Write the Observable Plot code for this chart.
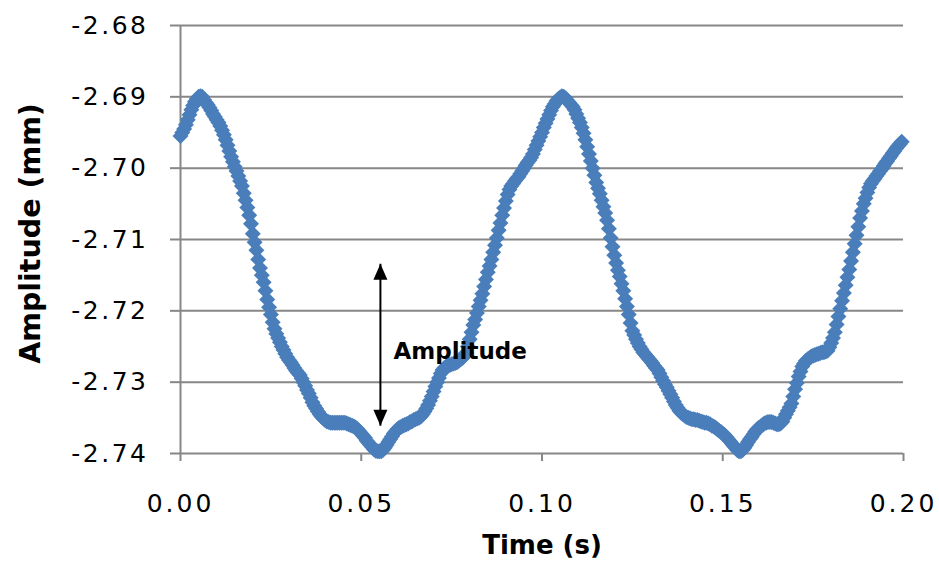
<!DOCTYPE html>
<html>
<head>
<meta charset="utf-8">
<script src="https://cdn.jsdelivr.net/npm/d3@7"></script>
<script src="https://cdn.jsdelivr.net/npm/@observablehq/plot@0.6"></script>
<style>
  html, body { margin: 0; padding: 0; background: #fff; }
  #chart svg [aria-label="y-axis tick label"] text { letter-spacing: 2.5px; }
  #chart svg [aria-label="x-axis tick label"] text { letter-spacing: 3px; }
</style>
</head>
<body>
<div id="chart"></div>
<script>
// Time (s) of each sample
const times = [
  0.0000,0.0005,0.0010,0.0015,0.0020,0.0025,0.0030,0.0035,0.0040,0.0045,
  0.0050,0.0055,0.0060,0.0065,0.0070,0.0075,0.0080,0.0085,0.0090,0.0095,
  0.0100,0.0105,0.0110,0.0115,0.0120,0.0125,0.0130,0.0135,0.0140,0.0145,
  0.0150,0.0155,0.0160,0.0165,0.0170,0.0175,0.0180,0.0185,0.0190,0.0195,
  0.0200,0.0205,0.0210,0.0215,0.0220,0.0225,0.0230,0.0235,0.0240,0.0245,
  0.0250,0.0255,0.0260,0.0265,0.0270,0.0275,0.0280,0.0285,0.0290,0.0295,
  0.0300,0.0305,0.0310,0.0315,0.0320,0.0325,0.0330,0.0335,0.0340,0.0345,
  0.0350,0.0355,0.0360,0.0365,0.0370,0.0375,0.0380,0.0385,0.0390,0.0395,
  0.0400,0.0405,0.0410,0.0415,0.0420,0.0425,0.0430,0.0435,0.0440,0.0445,
  0.0450,0.0455,0.0460,0.0465,0.0470,0.0475,0.0480,0.0485,0.0490,0.0495,
  0.0500,0.0505,0.0510,0.0515,0.0520,0.0525,0.0530,0.0535,0.0540,0.0545,
  0.0550,0.0555,0.0560,0.0565,0.0570,0.0575,0.0580,0.0585,0.0590,0.0595,
  0.0600,0.0605,0.0610,0.0615,0.0620,0.0625,0.0630,0.0635,0.0640,0.0645,
  0.0650,0.0655,0.0660,0.0665,0.0670,0.0675,0.0680,0.0685,0.0690,0.0695,
  0.0700,0.0705,0.0710,0.0715,0.0720,0.0725,0.0730,0.0735,0.0740,0.0745,
  0.0750,0.0755,0.0760,0.0765,0.0770,0.0775,0.0780,0.0785,0.0790,0.0795,
  0.0800,0.0805,0.0810,0.0815,0.0820,0.0825,0.0830,0.0835,0.0840,0.0845,
  0.0850,0.0855,0.0860,0.0865,0.0870,0.0875,0.0880,0.0885,0.0890,0.0895,
  0.0900,0.0905,0.0910,0.0915,0.0920,0.0925,0.0930,0.0935,0.0940,0.0945,
  0.0950,0.0955,0.0960,0.0965,0.0970,0.0975,0.0980,0.0985,0.0990,0.0995,
  0.1000,0.1005,0.1010,0.1015,0.1020,0.1025,0.1030,0.1035,0.1040,0.1045,
  0.1050,0.1055,0.1060,0.1065,0.1070,0.1075,0.1080,0.1085,0.1090,0.1095,
  0.1100,0.1105,0.1110,0.1115,0.1120,0.1125,0.1130,0.1135,0.1140,0.1145,
  0.1150,0.1155,0.1160,0.1165,0.1170,0.1175,0.1180,0.1185,0.1190,0.1195,
  0.1200,0.1205,0.1210,0.1215,0.1220,0.1225,0.1230,0.1235,0.1240,0.1245,
  0.1250,0.1255,0.1260,0.1265,0.1270,0.1275,0.1280,0.1285,0.1290,0.1295,
  0.1300,0.1305,0.1310,0.1315,0.1320,0.1325,0.1330,0.1335,0.1340,0.1345,
  0.1350,0.1355,0.1360,0.1365,0.1370,0.1375,0.1380,0.1385,0.1390,0.1395,
  0.1400,0.1405,0.1410,0.1415,0.1420,0.1425,0.1430,0.1435,0.1440,0.1445,
  0.1450,0.1455,0.1460,0.1465,0.1470,0.1475,0.1480,0.1485,0.1490,0.1495,
  0.1500,0.1505,0.1510,0.1515,0.1520,0.1525,0.1530,0.1535,0.1540,0.1545,
  0.1550,0.1555,0.1560,0.1565,0.1570,0.1575,0.1580,0.1585,0.1590,0.1595,
  0.1600,0.1605,0.1610,0.1615,0.1620,0.1625,0.1630,0.1635,0.1640,0.1645,
  0.1650,0.1655,0.1660,0.1665,0.1670,0.1675,0.1680,0.1685,0.1690,0.1695,
  0.1700,0.1705,0.1710,0.1715,0.1720,0.1725,0.1730,0.1735,0.1740,0.1745,
  0.1750,0.1755,0.1760,0.1765,0.1770,0.1775,0.1780,0.1785,0.1790,0.1795,
  0.1800,0.1805,0.1810,0.1815,0.1820,0.1825,0.1830,0.1835,0.1840,0.1845,
  0.1850,0.1855,0.1860,0.1865,0.1870,0.1875,0.1880,0.1885,0.1890,0.1895,
  0.1900,0.1905,0.1910,0.1915,0.1920,0.1925,0.1930,0.1935,0.1940,0.1945,
  0.1950,0.1955,0.1960,0.1965,0.1970,0.1975,0.1980,0.1985,0.1990,0.1995
];

// Amplitude (mm) of each sample
const amplitudes = [
  -2.6955,-2.6950,-2.6945,-2.6939,-2.6932,-2.6925,-2.6918,-2.6912,-2.6907,-2.6903,
  -2.6900,-2.6899,-2.6900,-2.6904,-2.6908,-2.6911,-2.6915,-2.6919,-2.6924,-2.6928,
  -2.6932,-2.6936,-2.6941,-2.6947,-2.6953,-2.6960,-2.6968,-2.6976,-2.6984,-2.6991,
  -2.6998,-2.7004,-2.7011,-2.7018,-2.7025,-2.7035,-2.7045,-2.7055,-2.7066,-2.7078,
  -2.7092,-2.7104,-2.7115,-2.7128,-2.7140,-2.7150,-2.7160,-2.7172,-2.7184,-2.7195,
  -2.7205,-2.7216,-2.7225,-2.7232,-2.7238,-2.7244,-2.7250,-2.7255,-2.7260,-2.7265,
  -2.7269,-2.7272,-2.7276,-2.7280,-2.7284,-2.7287,-2.7290,-2.7295,-2.7300,-2.7305,
  -2.7311,-2.7316,-2.7322,-2.7328,-2.7333,-2.7337,-2.7341,-2.7345,-2.7348,-2.7351,
  -2.7353,-2.7355,-2.7356,-2.7357,-2.7357,-2.7357,-2.7357,-2.7357,-2.7357,-2.7357,
  -2.7357,-2.7357,-2.7358,-2.7359,-2.7360,-2.7361,-2.7362,-2.7364,-2.7366,-2.7369,
  -2.7372,-2.7375,-2.7378,-2.7382,-2.7385,-2.7388,-2.7391,-2.7394,-2.7396,-2.7397,
  -2.7397,-2.7397,-2.7395,-2.7392,-2.7388,-2.7384,-2.7380,-2.7376,-2.7372,-2.7369,
  -2.7366,-2.7364,-2.7363,-2.7361,-2.7360,-2.7359,-2.7358,-2.7356,-2.7355,-2.7353,
  -2.7352,-2.7351,-2.7350,-2.7348,-2.7345,-2.7341,-2.7337,-2.7332,-2.7326,-2.7320,
  -2.7313,-2.7306,-2.7300,-2.7294,-2.7288,-2.7283,-2.7280,-2.7278,-2.7277,-2.7276,
  -2.7275,-2.7274,-2.7273,-2.7272,-2.7270,-2.7268,-2.7266,-2.7263,-2.7259,-2.7250,
  -2.7240,-2.7230,-2.7220,-2.7212,-2.7203,-2.7194,-2.7185,-2.7176,-2.7166,-2.7156,
  -2.7146,-2.7137,-2.7128,-2.7118,-2.7108,-2.7098,-2.7087,-2.7077,-2.7066,-2.7056,
  -2.7046,-2.7037,-2.7030,-2.7025,-2.7022,-2.7018,-2.7015,-2.7012,-2.7008,-2.7004,
  -2.7000,-2.6996,-2.6992,-2.6989,-2.6985,-2.6980,-2.6974,-2.6968,-2.6962,-2.6956,
  -2.6950,-2.6943,-2.6937,-2.6931,-2.6925,-2.6919,-2.6914,-2.6910,-2.6906,-2.6903,
  -2.6901,-2.6899,-2.6900,-2.6902,-2.6905,-2.6908,-2.6911,-2.6914,-2.6918,-2.6924,
  -2.6930,-2.6936,-2.6943,-2.6951,-2.6960,-2.6970,-2.6980,-2.6990,-2.7000,-2.7010,
  -2.7020,-2.7028,-2.7036,-2.7045,-2.7054,-2.7063,-2.7073,-2.7085,-2.7098,-2.7110,
  -2.7122,-2.7133,-2.7143,-2.7152,-2.7162,-2.7172,-2.7183,-2.7194,-2.7205,-2.7217,
  -2.7228,-2.7234,-2.7240,-2.7245,-2.7250,-2.7254,-2.7258,-2.7261,-2.7264,-2.7267,
  -2.7270,-2.7273,-2.7277,-2.7280,-2.7283,-2.7288,-2.7293,-2.7298,-2.7303,-2.7307,
  -2.7312,-2.7317,-2.7322,-2.7327,-2.7332,-2.7336,-2.7340,-2.7343,-2.7345,-2.7347,
  -2.7349,-2.7350,-2.7351,-2.7352,-2.7352,-2.7353,-2.7353,-2.7354,-2.7355,-2.7356,
  -2.7357,-2.7357,-2.7358,-2.7359,-2.7361,-2.7362,-2.7364,-2.7366,-2.7368,-2.7370,
  -2.7372,-2.7374,-2.7377,-2.7380,-2.7383,-2.7386,-2.7389,-2.7392,-2.7395,-2.7397,
  -2.7397,-2.7395,-2.7392,-2.7388,-2.7384,-2.7380,-2.7377,-2.7373,-2.7369,-2.7366,
  -2.7364,-2.7362,-2.7360,-2.7358,-2.7357,-2.7356,-2.7356,-2.7356,-2.7357,-2.7358,
  -2.7359,-2.7359,-2.7358,-2.7355,-2.7350,-2.7345,-2.7340,-2.7335,-2.7330,-2.7320,
  -2.7310,-2.7301,-2.7292,-2.7285,-2.7278,-2.7274,-2.7270,-2.7268,-2.7266,-2.7264,
  -2.7263,-2.7262,-2.7261,-2.7260,-2.7259,-2.7258,-2.7258,-2.7257,-2.7256,-2.7251,
  -2.7245,-2.7238,-2.7230,-2.7219,-2.7208,-2.7197,-2.7186,-2.7175,-2.7164,-2.7153,
  -2.7142,-2.7130,-2.7118,-2.7106,-2.7094,-2.7082,-2.7070,-2.7060,-2.7050,-2.7042,
  -2.7034,-2.7027,-2.7022,-2.7018,-2.7015,-2.7011,-2.7008,-2.7004,-2.7001,-2.6997,
  -2.6993,-2.6990,-2.6986,-2.6983,-2.6979,-2.6976,-2.6972,-2.6969,-2.6966,-2.6963
];

// Axis ticks
const xTicks = [0.00, 0.05, 0.10, 0.15, 0.20];
const yTicks = [-2.74, -2.73, -2.72, -2.71, -2.70, -2.69, -2.68];

// Axis titles
const xTitle = "Time (s)";
const yTitle = "Amplitude (mm)";

// Annotation: double arrow from (time, top) to (time, bottom), and its label
const arrowTime = [0.0553];
const arrowTop = [-2.7134];
const arrowBottom = [-2.7361];
const annotationText = ["Amplitude"];
const annotationTime = [0.0589];
const annotationAmp = [-2.7257];

const data = times.map((t, i) => ({t, a: amplitudes[i]}));
const arrowData = arrowTime.map((t, i) => ({t, top: arrowTop[i], bottom: arrowBottom[i]}));
const labelData = annotationText.map((s, i) => ({s, t: annotationTime[i], a: annotationAmp[i]}));

const blue = "#4a7ebb";
const gray = "#878787";
const fmt = d => d.toFixed(2);

// arrow head: tip at the origin, pointing up
const headSymbol = {
  draw(context) {
    context.moveTo(0, 0);
    context.lineTo(-7, 16);
    context.lineTo(7, 16);
    context.closePath();
  }
};

const chart = Plot.plot({
  width: 939,
  height: 561,
  marginLeft: 180,
  marginRight: 36,
  marginTop: 25,
  marginBottom: 108,
  style: {fontFamily: "'DejaVu Sans', sans-serif", fontSize: "25px", color: "black", background: "white"},
  x: {domain: [0, 0.2]},
  y: {domain: [-2.74, -2.68]},
  marks: [
    Plot.gridY(yTicks, {stroke: gray, strokeOpacity: 1, strokeWidth: 2}),
    Plot.ruleX([0], {stroke: gray, strokeWidth: 2}),
    Plot.axisY(yTicks, {tickFormat: fmt, tickSize: 10, tickPadding: 22, stroke: gray, strokeWidth: 2, color: "black", label: null}),
    Plot.axisX(xTicks, {tickFormat: fmt, tickSize: 8, tickPadding: 33, stroke: gray, strokeWidth: 2, color: "black", label: null}),
    Plot.dot(data, {x: "t", y: "a", symbol: "diamond2", r: 7.2, fill: blue, stroke: null}),
    Plot.link(arrowData, {x1: "t", x2: "t", y1: "top", y2: "bottom", stroke: "black", strokeWidth: 2}),
    Plot.dot(arrowData, {x: "t", y: "top", symbol: headSymbol, fill: "black", stroke: null}),
    Plot.dot(arrowData, {x: "t", y: "bottom", symbol: headSymbol, rotate: 180, fill: "black", stroke: null}),
    Plot.text(labelData, {x: "t", y: "a", text: "s", textAnchor: "start", lineAnchor: "middle", fontWeight: "bold", fontSize: 23, fill: "black"}),
    Plot.text([xTitle], {frameAnchor: "bottom", textAnchor: "middle", dy: 92, lineAnchor: "middle", fontWeight: "bold", fontSize: 26, fill: "black"}),
    Plot.text([yTitle], {frameAnchor: "left", textAnchor: "middle", dx: -150, dy: -6, rotate: -90, lineAnchor: "middle", fontWeight: "bold", fontSize: 28.5, fill: "black"})
  ]
});
document.getElementById("chart").appendChild(chart);
</script>
</body>
</html>
